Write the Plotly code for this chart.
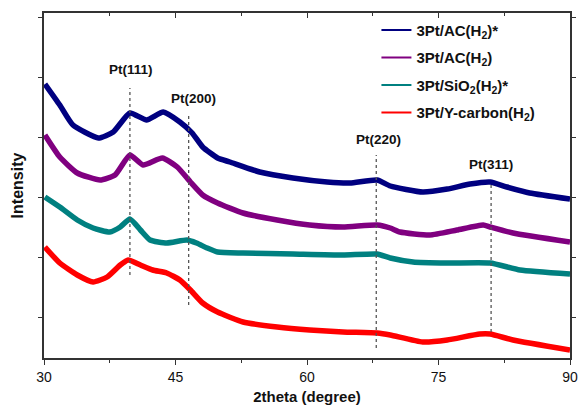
import plotly.graph_objects as go

# ---- data (arbitrary intensity units) ----
x_navy = [30.1, 31.8, 33.3, 36.2, 37.9, 39.8, 41.7, 43.6, 45.5, 46.9, 48.1, 49.8, 51.2, 54.6, 58.4, 62.3, 64.9, 68.0, 69.5, 73.2, 76.0, 78.6, 80.9, 82.8, 85.4, 90.0]
y_navy = [274, 253, 233, 220, 226, 245, 238, 246, 236, 225, 211, 200, 196, 186, 180, 176, 175, 178, 172, 166, 169, 174, 176, 171, 165, 159]

x_purple = [30.1, 31.8, 33.8, 36.4, 38.1, 39.8, 41.3, 43.5, 45.2, 46.7, 48.1, 49.8, 52.7, 56.6, 60.3, 64.1, 68.0, 69.5, 70.6, 74.0, 77.1, 80.1, 80.9, 83.5, 90.0]
y_purple = [223, 201, 185, 178, 183, 203, 193, 200, 191, 176, 163, 155, 145, 138, 133, 131, 133, 130, 126, 123, 128, 133, 131, 125, 116]

x_teal = [30.1, 31.8, 33.8, 35.6, 37.5, 38.7, 39.8, 41.0, 42.1, 44.0, 46.3, 47.4, 48.6, 49.8, 52.7, 58.4, 64.1, 68.0, 69.5, 72.1, 76.0, 80.9, 84.3, 90.0]
y_teal = [161, 151, 138, 130, 126, 131, 139, 128, 118, 115, 118, 115, 110, 106, 105, 104, 103, 104, 100, 96, 95, 95, 88, 84]

x_red = [30.1, 31.8, 33.8, 35.6, 37.2, 38.7, 39.6, 41.0, 42.4, 44.0, 45.5, 46.7, 48.1, 49.8, 52.7, 56.6, 60.3, 64.1, 68.0, 69.5, 73.2, 76.0, 79.7, 80.9, 83.5, 90.0]
y_red = [111, 95, 83, 76, 81, 93, 98, 93, 88, 85, 78, 68, 55, 46, 36, 31, 28, 26, 25, 23, 16, 18, 24, 24, 18, 8]

series_names = ["3Pt/AC(H<sub>2</sub>)*", "3Pt/AC(H<sub>2</sub>)",
                "3Pt/SiO<sub>2</sub>(H<sub>2</sub>)*", "3Pt/Y-carbon(H<sub>2</sub>)"]
series_colors = ["#000080", "#800080", "#008080", "#FF0000"]
series_x = [x_navy, x_purple, x_teal, x_red]
series_y = [y_navy, y_purple, y_teal, y_red]

# reflection markers
peak_labels = ["Pt(111)", "Pt(200)", "Pt(220)", "Pt(311)"]
peak_pos = [39.8, 46.5, 67.9, 81.0]
peak_line_top = [270, 243, 203, 175]
peak_line_bottom = [83, 53, 10, 26]
peak_label_x = [39.9, 47.0, 68.1, 81.0]
peak_label_y = [289, 260, 219, 194]

x_ticks = [30, 45, 60, 75, 90]

FONT = "Arial, Liberation Sans, sans-serif"

fig = go.Figure()

for xs, ys, nm, col in zip(series_x, series_y, series_names, series_colors):
    fig.add_trace(go.Scatter(x=xs, y=ys, mode="lines", name=nm, showlegend=False,
                             line=dict(color=col, width=5.5, shape="spline", smoothing=0.5)))
# legend entries with thin lines
for i, (nm, col) in enumerate(zip(series_names, series_colors)):
    fig.add_trace(go.Scatter(x=[None], y=[None], mode="lines", name="<b>" + nm + "</b>",
                             legendgroup="g%d" % i,
                             line=dict(color=col, width=2)))

for xp, yt, yb in zip(peak_pos, peak_line_top, peak_line_bottom):
    fig.add_shape(type="line", x0=xp, x1=xp, y0=yb, y1=yt, xref="x", yref="y",
                  line=dict(color="#555555", width=1.3, dash="dot"))

for lab, lx, ly in zip(peak_labels, peak_label_x, peak_label_y):
    fig.add_annotation(x=lx, y=ly, xref="x", yref="y", text="<b>" + lab + "</b>",
                       showarrow=False, font=dict(family=FONT, size=13.5, color="#111111"))

axis_col = "#333333"
fig.update_layout(
    width=578, height=405,
    margin=dict(l=44, r=8, t=13, b=47),
    paper_bgcolor="white", plot_bgcolor="white",
    font=dict(family=FONT, size=14, color="#111111"),
    showlegend=True,
    legend=dict(x=0.632, y=0.998, xanchor="left", yanchor="top",
                bgcolor="rgba(0,0,0,0)", borderwidth=0,
                font=dict(family=FONT, size=15, color="#111111"),
                tracegroupgap=5, itemwidth=30),
    xaxis=dict(range=[30, 90], tickvals=x_ticks, ticks="outside", ticklen=5, tickwidth=1.2,
               tickcolor=axis_col, showline=True, linecolor=axis_col, linewidth=1.5,
               mirror=True, showgrid=False, zeroline=False, automargin=False,
               minor=dict(ticks="outside", ticklen=3, dtick=7.5, tickcolor=axis_col, showgrid=False),
               tickfont=dict(family=FONT, size=14, color="#111111"),
               title=dict(text="<b>2theta (degree)</b>", font=dict(family=FONT, size=15), standoff=11)),
    xaxis2=dict(range=[30, 90], overlaying="x", side="top", tickvals=x_ticks, ticks="inside",
                ticklen=5, tickcolor=axis_col, showticklabels=False, showgrid=False,
                zeroline=False, showline=False, automargin=False,
                minor=dict(ticks="inside", ticklen=3, dtick=7.5, tickcolor=axis_col, showgrid=False)),
    yaxis=dict(range=[0, 345], tick0=41, dtick=60, ticks="outside", ticklen=4, tickwidth=1.2,
               tickcolor=axis_col, showticklabels=False, showline=True, linecolor=axis_col,
               linewidth=1.5, mirror="allticks", showgrid=False, zeroline=False, automargin=False,
               title=dict(text="<b>Intensity</b>", font=dict(family=FONT, size=16), standoff=11)),
)
fig.add_trace(go.Scatter(x=[None], y=[None], xaxis="x2", yaxis="y", showlegend=False))

fig.write_html("out.html", config={"displayModeBar": False},
               post_script="document.body.style.margin='0';")
